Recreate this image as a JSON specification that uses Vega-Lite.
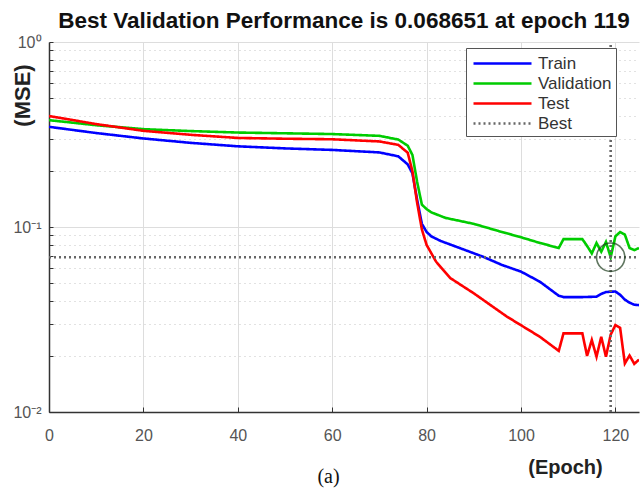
{
  "$schema": "https://vega.github.io/schema/vega-lite/v6.json",
  "width": 590,
  "height": 370,
  "autosize": {"type": "none"},
  "padding": {"left": 49, "top": 42, "right": 1, "bottom": 78},
  "background": "white",
  "title": {
    "text": "Best Validation Performance is 0.068651 at epoch 119",
    "font": "Liberation Sans",
    "fontSize": 22.5,
    "fontWeight": "bold",
    "color": "#111111",
    "anchor": "middle",
    "offset": 2
  },
  "datasets": {
    "curves": [
      {"series": "Train", "seg": "Train", "epoch": 0, "mse": 0.348},
      {"series": "Train", "seg": "Train", "epoch": 10, "mse": 0.322},
      {"series": "Train", "seg": "Train", "epoch": 20, "mse": 0.301},
      {"series": "Train", "seg": "Train", "epoch": 30, "mse": 0.285},
      {"series": "Train", "seg": "Train", "epoch": 40, "mse": 0.273},
      {"series": "Train", "seg": "Train", "epoch": 50, "mse": 0.266},
      {"series": "Train", "seg": "Train", "epoch": 60, "mse": 0.261},
      {"series": "Train", "seg": "Train", "epoch": 70, "mse": 0.253},
      {"series": "Train", "seg": "Train", "epoch": 74, "mse": 0.241},
      {"series": "Train", "seg": "Train", "epoch": 76, "mse": 0.218},
      {"series": "Train", "seg": "Train", "epoch": 77, "mse": 0.195},
      {"series": "Train", "seg": "Train", "epoch": 78, "mse": 0.14},
      {"series": "Train", "seg": "Train", "epoch": 79, "mse": 0.104},
      {"series": "Train", "seg": "Train", "epoch": 80, "mse": 0.094},
      {"series": "Train", "seg": "Train", "epoch": 81, "mse": 0.089},
      {"series": "Train", "seg": "Train", "epoch": 83, "mse": 0.084},
      {"series": "Train", "seg": "Train", "epoch": 87, "mse": 0.077},
      {"series": "Train", "seg": "Train", "epoch": 92, "mse": 0.069},
      {"series": "Train", "seg": "Train", "epoch": 96, "mse": 0.0623},
      {"series": "Train", "seg": "Train", "epoch": 100, "mse": 0.0574},
      {"series": "Train", "seg": "Train", "epoch": 104, "mse": 0.0506},
      {"series": "Train", "seg": "Train", "epoch": 108, "mse": 0.0425},
      {"series": "Train", "seg": "Train", "epoch": 109, "mse": 0.0418},
      {"series": "Train", "seg": "Train", "epoch": 113, "mse": 0.0418},
      {"series": "Train", "seg": "Train", "epoch": 116, "mse": 0.042},
      {"series": "Train", "seg": "Train", "epoch": 117, "mse": 0.0435},
      {"series": "Train", "seg": "Train", "epoch": 118, "mse": 0.0445},
      {"series": "Train", "seg": "Train", "epoch": 119, "mse": 0.0447},
      {"series": "Train", "seg": "Train", "epoch": 120, "mse": 0.0448},
      {"series": "Train", "seg": "Train", "epoch": 121, "mse": 0.043},
      {"series": "Train", "seg": "Train", "epoch": 122, "mse": 0.0405},
      {"series": "Train", "seg": "Train", "epoch": 123, "mse": 0.039},
      {"series": "Train", "seg": "Train", "epoch": 124, "mse": 0.038},
      {"series": "Train", "seg": "Train", "epoch": 125, "mse": 0.0378},

      {"series": "Validation", "seg": "Validation", "epoch": 0, "mse": 0.378},
      {"series": "Validation", "seg": "Validation", "epoch": 10, "mse": 0.355},
      {"series": "Validation", "seg": "Validation", "epoch": 20, "mse": 0.338},
      {"series": "Validation", "seg": "Validation", "epoch": 30, "mse": 0.33},
      {"series": "Validation", "seg": "Validation", "epoch": 40, "mse": 0.324},
      {"series": "Validation", "seg": "Validation", "epoch": 50, "mse": 0.321},
      {"series": "Validation", "seg": "Validation", "epoch": 60, "mse": 0.318},
      {"series": "Validation", "seg": "Validation", "epoch": 70, "mse": 0.311},
      {"series": "Validation", "seg": "Validation", "epoch": 74, "mse": 0.297},
      {"series": "Validation", "seg": "Validation", "epoch": 76, "mse": 0.275},
      {"series": "Validation", "seg": "Validation", "epoch": 77, "mse": 0.245},
      {"series": "Validation", "seg": "Validation", "epoch": 78, "mse": 0.175},
      {"series": "Validation", "seg": "Validation", "epoch": 79, "mse": 0.132},
      {"series": "Validation", "seg": "Validation", "epoch": 80, "mse": 0.125},
      {"series": "Validation", "seg": "Validation", "epoch": 81, "mse": 0.12},
      {"series": "Validation", "seg": "Validation", "epoch": 84, "mse": 0.112},
      {"series": "Validation", "seg": "Validation", "epoch": 90, "mse": 0.104},
      {"series": "Validation", "seg": "Validation", "epoch": 95, "mse": 0.0955},
      {"series": "Validation", "seg": "Validation", "epoch": 100, "mse": 0.088},
      {"series": "Validation", "seg": "Validation", "epoch": 104, "mse": 0.082},
      {"series": "Validation", "seg": "Validation", "epoch": 108, "mse": 0.077},
      {"series": "Validation", "seg": "Validation", "epoch": 109, "mse": 0.086},
      {"series": "Validation", "seg": "Validation", "epoch": 110, "mse": 0.086},
      {"series": "Validation", "seg": "Validation", "epoch": 111, "mse": 0.086},
      {"series": "Validation", "seg": "Validation", "epoch": 112, "mse": 0.086},
      {"series": "Validation", "seg": "Validation", "epoch": 113, "mse": 0.086},
      {"series": "Validation", "seg": "Validation", "epoch": 114, "mse": 0.079},
      {"series": "Validation", "seg": "Validation", "epoch": 115, "mse": 0.072},
      {"series": "Validation", "seg": "Validation", "epoch": 116, "mse": 0.082},
      {"series": "Validation", "seg": "Validation", "epoch": 117, "mse": 0.0735},
      {"series": "Validation", "seg": "Validation", "epoch": 118, "mse": 0.083},
      {"series": "Validation", "seg": "Validation", "epoch": 119, "mse": 0.068651},
      {"series": "Validation", "seg": "Validation", "epoch": 120, "mse": 0.089},
      {"series": "Validation", "seg": "Validation", "epoch": 121, "mse": 0.094},
      {"series": "Validation", "seg": "Validation", "epoch": 122, "mse": 0.091},
      {"series": "Validation", "seg": "Validation", "epoch": 123, "mse": 0.077},
      {"series": "Validation", "seg": "Validation", "epoch": 124, "mse": 0.075},
      {"series": "Validation", "seg": "Validation", "epoch": 125, "mse": 0.077},

      {"series": "Test", "seg": "Test", "epoch": 0, "mse": 0.398},
      {"series": "Test", "seg": "Test", "epoch": 10, "mse": 0.36},
      {"series": "Test", "seg": "Test", "epoch": 20, "mse": 0.331},
      {"series": "Test", "seg": "Test", "epoch": 30, "mse": 0.315},
      {"series": "Test", "seg": "Test", "epoch": 40, "mse": 0.303},
      {"series": "Test", "seg": "Test", "epoch": 50, "mse": 0.3},
      {"series": "Test", "seg": "Test", "epoch": 60, "mse": 0.298},
      {"series": "Test", "seg": "Test", "epoch": 70, "mse": 0.29},
      {"series": "Test", "seg": "Test", "epoch": 74, "mse": 0.278},
      {"series": "Test", "seg": "Test", "epoch": 76, "mse": 0.252},
      {"series": "Test", "seg": "Test", "epoch": 77, "mse": 0.2},
      {"series": "Test", "seg": "Test", "epoch": 78, "mse": 0.135},
      {"series": "Test", "seg": "Test", "epoch": 79, "mse": 0.097},
      {"series": "Test", "seg": "Test", "epoch": 80, "mse": 0.08},
      {"series": "Test", "seg": "Test", "epoch": 82, "mse": 0.065},
      {"series": "Test", "seg": "Test", "epoch": 85, "mse": 0.053},
      {"series": "Test", "seg": "Test", "epoch": 90, "mse": 0.0438},
      {"series": "Test", "seg": "Test", "epoch": 97, "mse": 0.0328},
      {"series": "Test", "seg": "Test", "epoch": 104, "mse": 0.0255},
      {"series": "Test", "seg": "Test", "epoch": 108, "mse": 0.0214},
      {"series": "Test", "seg": "Test", "epoch": 109, "mse": 0.0266},
      {"series": "Test", "seg": "Test", "epoch": 110, "mse": 0.0266},
      {"series": "Test", "seg": "Test", "epoch": 111, "mse": 0.0266},
      {"series": "Test", "seg": "Test", "epoch": 112, "mse": 0.0266},
      {"series": "Test", "seg": "Test", "epoch": 113, "mse": 0.0266},
      {"series": "Test", "seg": "Test", "epoch": 114, "mse": 0.0201},
      {"series": "Test", "seg": "Test", "epoch": 115, "mse": 0.0245},
      {"series": "Test", "seg": "Test", "epoch": 116, "mse": 0.0199},
      {"series": "Test", "seg": "Test", "epoch": 117, "mse": 0.0255},
      {"series": "Test", "seg": "Test", "epoch": 118, "mse": 0.0199},
      {"series": "Test", "seg": "Test", "epoch": 119, "mse": 0.0262},
      {"series": "Test", "seg": "Test", "epoch": 120, "mse": 0.0295},
      {"series": "Test", "seg": "Test", "epoch": 121, "mse": 0.0285},
      {"series": "Test", "seg": "Test", "epoch": 122, "mse": 0.0183},
      {"series": "Test", "seg": "Test", "epoch": 123, "mse": 0.0202},
      {"series": "Test", "seg": "Test", "epoch": 124, "mse": 0.0182},
      {"series": "Test", "seg": "Test", "epoch": 125, "mse": 0.0192},

      {"series": "Best", "seg": "h", "epoch": 0, "mse": 0.068651},
      {"series": "Best", "seg": "h", "epoch": 125, "mse": 0.068651},
      {"series": "Best", "seg": "v", "epoch": 119, "mse": 0.01},
      {"series": "Best", "seg": "v", "epoch": 119, "mse": 1}
    ],
    "best": [
      {"epoch": 119, "mse": 0.068651}
    ]
  },
  "layer": [
    {
      "data": {"name": "curves"},
      "mark": {"type": "line", "clip": true},
      "encoding": {
        "x": {
          "field": "epoch",
          "type": "quantitative",
          "scale": {"domain": [0, 125], "nice": false, "zero": false},
          "axis": {
            "values": [0, 20, 40, 60, 80, 100, 120],
            "grid": true,
            "gridColor": "#dddddd",
            "gridWidth": 1,
            "tickSize": -5,
            "tickColor": "#333333",
            "domainColor": "#333333",
            "domainWidth": 1.5,
            "labelFont": "Liberation Sans",
            "labelFontSize": 16,
            "labelColor": "#555555",
            "labelPadding": 20,
            "labelFlush": false,
            "title": "(Epoch)",
            "titleFont": "Liberation Sans",
            "titleFontSize": 20,
            "titleFontWeight": "bold",
            "titleColor": "#222222",
            "titleX": 516,
            "titleY": 55,
            "titleAlign": "center",
            "titleBaseline": "middle"
          }
        },
        "y": {
          "field": "mse",
          "type": "quantitative",
          "scale": {"type": "log", "domain": [0.01, 1], "nice": false},
          "axis": {
            "values": [0.01, 0.02, 0.03, 0.04, 0.05, 0.06, 0.07, 0.08, 0.09, 0.1, 0.2, 0.3, 0.4, 0.5, 0.6, 0.7, 0.8, 0.9, 1],
            "labelExpr": "datum.value == 1 ? '10⁰' : datum.value == 0.1 ? '10⁻¹' : datum.value == 0.01 ? '10⁻²' : ''",
            "grid": true,
            "gridColor": {"condition": {"test": "datum.value == 1 || datum.value == 0.1 || datum.value == 0.01", "value": "#dddddd"}, "value": "#c4c4c4"},
            "gridDash": {"condition": {"test": "datum.value == 1 || datum.value == 0.1 || datum.value == 0.01", "value": []}, "value": [1, 4]},
            "gridWidth": 1,
            "tickSize": -4,
            "tickColor": "#333333",
            "domainColor": "#333333",
            "domainWidth": 1.5,
            "labelFont": "Liberation Sans",
            "labelFontSize": 16,
            "labelColor": "#555555",
            "labelPadding": 12,
            "labelOverlap": false,
            "labelFlush": false,
            "title": "(MSE)",
            "titleFont": "Liberation Sans",
            "titleFontSize": 22,
            "titleFontWeight": "bold",
            "titleColor": "#222222",
            "titleX": -27,
            "titleY": 53,
            "titleAngle": -90,
            "titleAlign": "center",
            "titleBaseline": "middle"
          }
        },
        "detail": {"field": "seg"},
        "color": {
          "field": "series",
          "type": "nominal",
          "scale": {"domain": ["Train", "Validation", "Test", "Best"], "range": ["#0000ff", "#00cc00", "#ff0000", "#666666"]},
          "legend": {"title": null}
        },
        "strokeDash": {
          "field": "series",
          "type": "nominal",
          "scale": {"domain": ["Train", "Validation", "Test", "Best"], "range": [[1, 0], [1, 0], [1, 0], [2, 3]]},
          "legend": {"title": null}
        },
        "strokeWidth": {
          "field": "series",
          "type": "nominal",
          "scale": {"domain": ["Train", "Validation", "Test", "Best"], "range": [2.6, 2.6, 2.6, 1]},
          "legend": {"title": null}
        }
      }
    },
    {
      "data": {"name": "best"},
      "mark": {"type": "point", "filled": false, "size": 800, "stroke": "#1e3d1e", "strokeWidth": 1.6},
      "encoding": {
        "x": {"field": "epoch", "type": "quantitative"},
        "y": {
          "field": "mse",
          "type": "quantitative",
          "axis": {
            "orient": "right",
            "domain": false,
            "ticks": false,
            "labels": false,
            "grid": false,
            "title": "(a)",
            "titleFont": "Liberation Serif",
            "titleFontSize": 20,
            "titleFontWeight": "normal",
            "titleColor": "#111111",
            "titleAngle": 0,
            "titleX": -311,
            "titleY": 434,
            "titleAlign": "center",
            "titleBaseline": "middle"
          }
        }
      }
    }
  ],
  "resolve": {"axis": {"y": "independent"}},
  "config": {
    "view": {"stroke": null},
    "legend": {
      "orient": "none",
      "legendX": 417,
      "legendY": 6,
      "strokeColor": "#555555",
      "fillColor": "white",
      "padding": 4,
      "symbolType": "M-2.9,0H2.9",
      "symbolSize": 400,
      "symbolOffset": 21,
      "symbolStrokeWidth": 3,
      "labelFont": "Liberation Sans",
      "labelFontSize": 17,
      "labelColor": "#333333",
      "labelOffset": 24,
      "rowPadding": 0
    }
  }
}
